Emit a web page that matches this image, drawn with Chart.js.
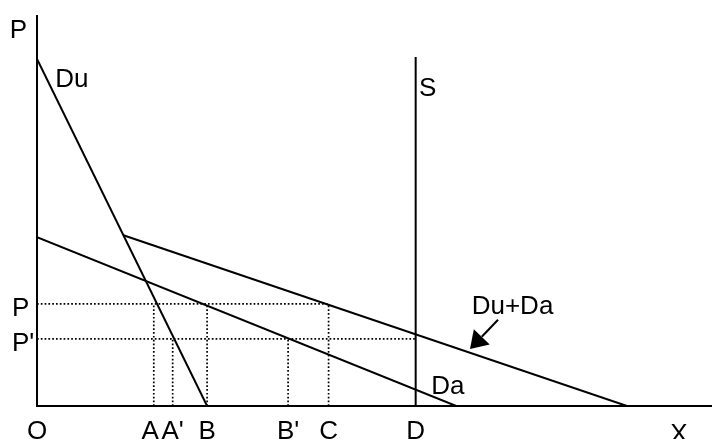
<!DOCTYPE html>
<html>
<head>
<meta charset="utf-8">
<script src="https://cdn.jsdelivr.net/npm/chart.js@4.4.1/dist/chart.umd.min.js"></script>
<style>
  html, body { margin: 0; padding: 0; background: #fff; }
  #wrap { width: 712px; height: 439px; position: relative; }
</style>
</head>
<body>
<div id="wrap"><canvas id="chart"></canvas></div>
<script>
// demand / supply lines (quantity x, price y)
const duLine   = [{ x: 0, y: 89.0 }, { x: 25.2, y: 0 }];
const daLine   = [{ x: 0, y: 43.3 }, { x: 62.1, y: 0 }];
const sumLine  = [{ x: 12.8, y: 43.8 }, { x: 87.4, y: 0 }];
const supplyS  = [{ x: 56.1, y: 0 }, { x: 56.1, y: 89.5 }];

// prices and quantities
const priceP  = 26.2;
const priceP2 = 17.2;
const qA = 17.3, qA2 = 20.1, qB = 25.2, qB2 = 37.2, qC = 43.2, qD = 56.1;

const xTickValues = [0, qA, qA2, qB, qB2, qC, qD];
const xTickLabels = ['O', 'A ', "A'", 'B', "B'", 'C', 'D'];
const yTickValues = [priceP2, priceP];
const yTickLabels = ["P'", 'P'];

// dotted guides
const guides = [
  [{ x: 0, y: priceP }, { x: qC, y: priceP }],
  [{ x: 0, y: priceP2 }, { x: qD, y: priceP2 }],
  [{ x: qA, y: 0 }, { x: qA, y: priceP }],
  [{ x: qB, y: 0 }, { x: qB, y: priceP }],
  [{ x: qC, y: 0 }, { x: qC, y: priceP }],
  [{ x: qA2, y: 0 }, { x: qA2, y: priceP2 }],
  [{ x: qB2, y: 0 }, { x: qB2, y: priceP2 }]
];

// text labels placed in data coordinates
const labelTexts = ['P', 'Du', 'S', 'Du+Da', 'Da', 'X'];
const labelX     = [-4.05, 2.7, 56.6, 64.4, 58.4, 93.8];
const labelY     = [94.4, 81.8, 79.5, 23.7, 3.2, -9.2];

// arrow pointing at Du+Da
const arrowFrom = { x: 68.3, y: 22.1 };
const arrowTo   = { x: 64.15, y: 14.6 };

const FONT = '"Liberation Sans", Arial, sans-serif';

const solid = (data) => ({
  data, showLine: true, borderColor: '#000', borderWidth: 2,
  pointRadius: 0, tension: 0, fill: false
});
const dotted = (data) => ({
  data, showLine: true, borderColor: '#000', borderWidth: 1.7,
  borderDash: [1.7, 2.1], pointRadius: 0, tension: 0, fill: false
});

const textPlugin = {
  id: 'texts',
  afterDraw(chart) {
    const { ctx, scales: { x, y } } = chart;
    ctx.save();
    ctx.fillStyle = '#000';
    ctx.font = '26px ' + FONT;
    ctx.textAlign = 'left';
    ctx.textBaseline = 'alphabetic';
    labelTexts.forEach((t, i) => {
      ctx.fillText(t, x.getPixelForValue(labelX[i]), y.getPixelForValue(labelY[i]));
    });

    // arrow
    const x1 = x.getPixelForValue(arrowFrom.x), y1 = y.getPixelForValue(arrowFrom.y);
    const x2 = x.getPixelForValue(arrowTo.x),   y2 = y.getPixelForValue(arrowTo.y);
    const ang = Math.atan2(y2 - y1, x2 - x1);
    const headLen = 17, headW = 11;
    const bx = x2 - headLen * Math.cos(ang), by = y2 - headLen * Math.sin(ang);
    ctx.strokeStyle = '#000';
    ctx.lineWidth = 2;
    ctx.beginPath();
    ctx.moveTo(x1, y1);
    ctx.lineTo(bx, by);
    ctx.stroke();
    ctx.beginPath();
    ctx.moveTo(x2, y2);
    ctx.lineTo(bx + headW * Math.sin(ang), by - headW * Math.cos(ang));
    ctx.lineTo(bx - headW * Math.sin(ang), by + headW * Math.cos(ang));
    ctx.closePath();
    ctx.fill();
    ctx.restore();
  }
};

new Chart(document.getElementById('chart'), {
  type: 'scatter',
  data: {
    datasets: [
      ...guides.map(dotted),
      solid(duLine),
      solid(daLine),
      solid(sumLine),
      solid(supplyS)
    ]
  },
  options: {
    responsive: true,
    maintainAspectRatio: false,
    animation: false,
    layout: { padding: { left: 12, top: 16, right: 0, bottom: 0 } },
    plugins: { legend: { display: false }, tooltip: { enabled: false } },
    scales: {
      x: {
        type: 'linear', min: 0, max: 100,
        grid: { display: false },
        border: { display: true, color: '#000', width: 2 },
        afterBuildTicks: (s) => { s.ticks = xTickValues.map(v => ({ value: v })); },
        afterFit: (s) => { s.height = 33; },
        ticks: {
          autoSkip: false, maxRotation: 0, padding: 2,
          color: '#000', font: { family: FONT, size: 26 },
          callback: (v, i) => xTickLabels[i]
        }
      },
      y: {
        type: 'linear', min: 0, max: 100,
        grid: { display: false },
        border: { display: true, color: '#000', width: 2 },
        afterBuildTicks: (s) => { s.ticks = yTickValues.map(v => ({ value: v })); },
        afterFit: (s) => { s.width = 25; },
        ticks: {
          autoSkip: false, crossAlign: 'far', padding: 0, labelOffset: 5,
          color: '#000', font: { family: FONT, size: 26 },
          callback: (v, i) => yTickLabels[i]
        }
      }
    }
  },
  plugins: [textPlugin]
});
</script>
</body>
</html>
